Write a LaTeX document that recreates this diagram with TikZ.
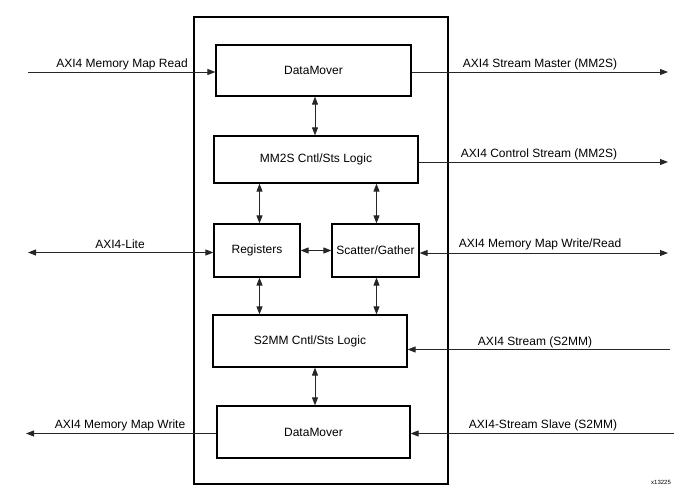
\documentclass[tikz,border=0pt]{standalone}
\usepackage{fontspec}
\setmainfont{Liberation Sans}
\usetikzlibrary{arrows.meta}
\begin{document}
\begin{tikzpicture}[x=1pt,y=-1pt,
  blk/.style={draw=black,line width=1.2pt,fill=white,inner sep=0pt,font=\fontsize{12}{14}\selectfont},
  lbl/.style={inner sep=0pt,font=\fontsize{12}{14}\selectfont},
  conn/.style={line width=0.9pt,draw=black!85,-{Triangle[length=8pt,width=6pt]}},
  bconn/.style={line width=0.9pt,draw=black!85,{Triangle[length=8pt,width=6pt]}-{Triangle[length=8pt,width=6pt]}}]
\useasboundingbox (0,0) rectangle (696,494);
\node[draw=black,line width=1.2pt,minimum width=254pt,minimum height=467pt,inner sep=0pt] (outer) at (321,250.5) {};
\node[blk,minimum width=195pt,minimum height=51pt] (dm1) at (313.5,70.5) {DataMover};
\node[blk,minimum width=204pt,minimum height=47pt] (mm2s) at (316,159.5) {MM2S Cntl/Sts Logic};
\node[blk,minimum width=86pt,minimum height=53pt] (reg) at (257,250.5) {Registers};
\node[blk,minimum width=87pt,minimum height=53pt] (sg) at (375.5,250.5) {Scatter/Gather};
\node[blk,minimum width=194pt,minimum height=52pt] (s2mm) at (310,341) {S2MM Cntl/Sts Logic};
\node[blk,minimum width=193pt,minimum height=52pt] (dm2) at (313.5,432) {DataMover};
% outside endpoints
\coordinate (mmr) at (28,72);
\coordinate (smm) at (668,72);
\coordinate (csm) at (668,162);
\coordinate (lite) at (28,252.5);
\coordinate (mmwr) at (668,253);
\coordinate (ss) at (670,349.5);
\coordinate (mmw) at (26,433.5);
\coordinate (ssl) at (674,433.5);
% external connectors
\draw[conn] (mmr) -- (mmr -| dm1.west);
\draw[conn] (smm -| dm1.east) -- (smm);
\draw[conn] (csm -| mm2s.east) -- (csm);
\draw[bconn] (lite) -- (lite -| reg.west);
\draw[bconn] (mmwr -| sg.east) -- (mmwr);
\draw[conn] (ss) -- (ss -| s2mm.east);
\draw[conn] (mmw -| dm2.west) -- (mmw);
\draw[conn] (ssl) -- (ssl -| dm2.east);
% internal connectors
\draw[bconn] ([xshift=1.5pt]dm1.south) -- ([xshift=1.5pt]dm1.south |- mm2s.north);
\draw[bconn] ([xshift=2.5pt]reg.north) -- ([xshift=2.5pt]reg.north |- mm2s.south);
\draw[bconn] ([xshift=1pt]sg.north) -- ([xshift=1pt]sg.north |- mm2s.south);
\draw[bconn] (reg.east) -- (reg.east -| sg.west);
\draw[bconn] ([xshift=2.5pt]reg.south) -- ([xshift=2.5pt]reg.south |- s2mm.north);
\draw[bconn] ([xshift=1pt]sg.south) -- ([xshift=1pt]sg.south |- s2mm.north);
\draw[bconn] ([xshift=5pt]s2mm.south) -- ([xshift=5pt]s2mm.south |- dm2.north);
% labels
\node[lbl] (l1) at (122,64) {AXI4 Memory Map Read};
\node[lbl] (l2) at (540,64) {AXI4 Stream Master (MM2S)};
\node[lbl] (l3) at (539,154) {AXI4 Control Stream (MM2S)};
\node[lbl] (l4) at (120,244) {AXI4-Lite};
\node[lbl] (l5) at (540,244) {AXI4 Memory Map Write/Read};
\node[lbl] (l6) at (535,342) {AXI4 Stream (S2MM)};
\node[lbl] (l7) at (120,425) {AXI4 Memory Map Write};
\node[lbl] (l8) at (543,425) {AXI4-Stream Slave (S2MM)};
\node[inner sep=0pt,font=\fontsize{6}{7}\selectfont] (id) at (661,482) {x13225};
\end{tikzpicture}
\end{document}
